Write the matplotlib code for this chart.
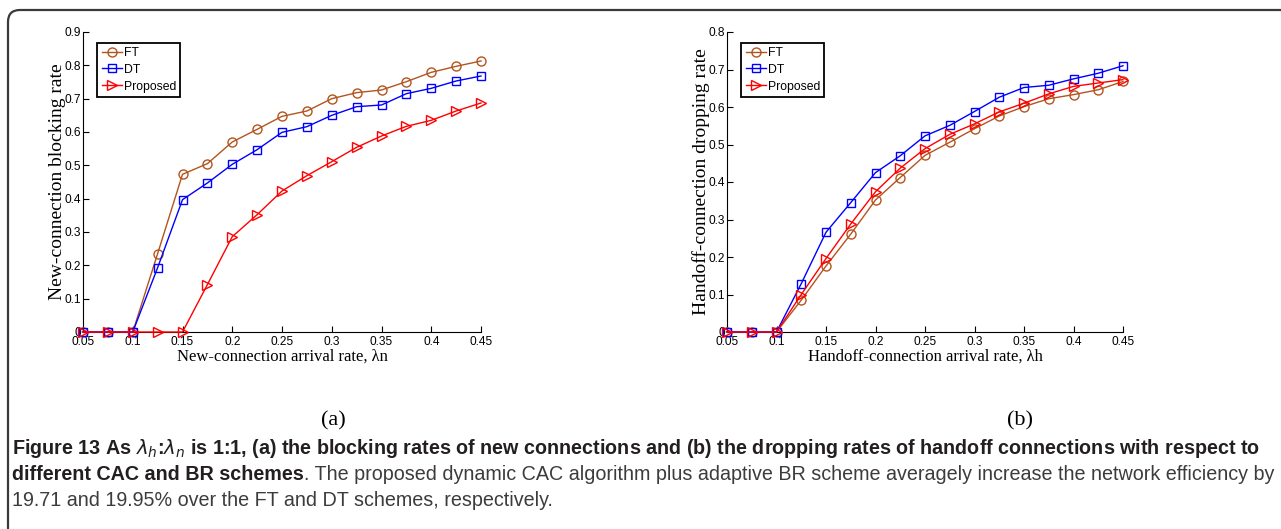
import matplotlib
matplotlib.use('Agg')
import matplotlib.pyplot as plt
import numpy as np
from matplotlib import font_manager
from matplotlib.patches import FancyBboxPatch

# arrival rates (both panels)
rates = [0.05, 0.075, 0.1, 0.125, 0.15, 0.175, 0.2, 0.225, 0.25, 0.275,
         0.3, 0.325, 0.35, 0.375, 0.4, 0.425, 0.45]

# (a) new-connection blocking rate
block_ft = [0, 0, 0, 0.235, 0.473, 0.505, 0.570, 0.608, 0.647, 0.663,
            0.700, 0.718, 0.726, 0.751, 0.779, 0.797, 0.813]
block_dt = [0, 0, 0, 0.193, 0.397, 0.447, 0.503, 0.547, 0.599, 0.616,
            0.650, 0.676, 0.681, 0.715, 0.731, 0.753, 0.768]
block_prop = [0, 0, 0, 0, 0, 0.142, 0.286, 0.352, 0.423, 0.469,
              0.511, 0.554, 0.588, 0.617, 0.635, 0.663, 0.687]

# (b) handoff-connection dropping rate
drop_ft = [0, 0, 0, 0.085, 0.176, 0.261, 0.352, 0.412, 0.471, 0.506,
           0.542, 0.576, 0.601, 0.622, 0.633, 0.646, 0.668]
drop_dt = [0, 0, 0, 0.129, 0.266, 0.345, 0.425, 0.470, 0.523, 0.551,
           0.588, 0.626, 0.652, 0.658, 0.675, 0.690, 0.710]
drop_prop = [0, 0, 0, 0.100, 0.196, 0.288, 0.374, 0.437, 0.489, 0.527,
             0.555, 0.587, 0.610, 0.635, 0.655, 0.664, 0.673]

series_names = ['FT', 'DT', 'Proposed']
x_ticks = [0.05, 0.1, 0.15, 0.2, 0.25, 0.3, 0.35, 0.4, 0.45]
x_ticklabels = ['0.05', '0.1', '0.15', '0.2', '0.25', '0.3', '0.35', '0.4', '0.45']

COLORS = ['#b3541e', '#0000ff', '#ff0000']
MARKERS = ['o', 's', '>']
SIZES = [6.5, 6.0, 7.0]

W, H = 1281, 529
fig = plt.figure(figsize=(W / 100, H / 100), dpi=100)

# background layer for frame, sub-labels and caption
bg = fig.add_axes([0, 0, 1, 1])
bg.set_xlim(0, W)
bg.set_ylim(H, 0)
bg.axis('off')
frame = FancyBboxPatch((8, 10), W + 20, H + 20,
                       boxstyle='round,pad=0,rounding_size=12',
                       fc='white', ec='#3a3a3a', lw=1.6)
bg.add_patch(frame)

serif = 'Liberation Serif'
sans = 'Liberation Sans'


def panel(rect, ys, ymax, xlabel, ylabel):
    ax = fig.add_axes(rect)
    for i, y in enumerate(ys):
        ax.plot(rates, y, color=COLORS[i], marker=MARKERS[i], ms=SIZES[i],
                mfc='none', mec=COLORS[i], mew=1.0, lw=1.0,
                label=series_names[i], clip_on=False, zorder=3 + i)
    ax.set_xlim(0.05, 0.45)
    ax.set_ylim(0, ymax)
    ax.set_xticks(x_ticks)
    ax.set_xticklabels(x_ticklabels)
    yt = np.round(np.arange(0, ymax + 0.001, 0.1), 1)
    ax.set_yticks(yt)
    ax.set_yticklabels(['0'] + ['%.1f' % v for v in yt[1:]])
    for s in ['top', 'right']:
        ax.spines[s].set_visible(False)
    for s in ['left', 'bottom']:
        ax.spines[s].set_linewidth(0.8)
    ax.tick_params(direction='in', length=4, width=0.8, labelsize=8.6)
    ax.tick_params(axis='x', pad=3)
    ax.tick_params(axis='y', pad=1.5)
    for lab in ax.get_xticklabels() + ax.get_yticklabels():
        lab.set_fontfamily(sans)
    ax.set_xlabel(xlabel, fontfamily=serif, fontsize=12, labelpad=0)
    ax.set_ylabel(ylabel, fontfamily=serif, fontsize=14, labelpad=-1)
    leg = ax.legend(loc='upper left', bbox_to_anchor=(0.036, 0.965),
                    prop={'family': sans, 'size': 8.8}, handlelength=1.7,
                    handletextpad=0.1, borderpad=0.35, labelspacing=0.4,
                    fancybox=False, framealpha=1, borderaxespad=0)
    leg.get_frame().set_edgecolor('black')
    leg.get_frame().set_linewidth(1.3)
    return ax


panel([83 / W, 1 - 332 / H, 398 / W, 300 / H],
      [block_ft, block_dt, block_prop], 0.9,
      'New-connection arrival rate, \u03bbn', 'New-connection blocking rate')
panel([727 / W, 1 - 332 / H, 396 / W, 300 / H],
      [drop_ft, drop_dt, drop_prop], 0.8,
      'Handoff-connection arrival rate, \u03bbh', 'Handoff-connection dropping rate')

bg.text(333, 421, '(a)', fontfamily=serif, fontsize=16, ha='center', va='center')
bg.text(1020, 421, '(b)', fontfamily=serif, fontsize=16, ha='center', va='center')

# caption
try:
    font_manager.findfont('Liberation Sans Narrow', fallback_to_default=False)
    cap_font = 'Liberation Sans Narrow'
except Exception:
    cap_font = sans

line1 = ('Figure 13 As $\\lambda_h$:$\\lambda_n$ is 1:1, (a) the blocking rates of new '
         'connections and (b) the dropping rates of handoff connections with respect to')
line2a = 'different CAC and BR schemes'
line2b = ('. The proposed dynamic CAC algorithm plus adaptive BR scheme averagely '
          'increase the network efficiency by')
line3 = '19.71 and 19.95% over the FT and DT schemes, respectively.'

fs = 10
t1 = bg.text(12, 448, line1, fontfamily=cap_font, fontweight='bold', fontsize=fs,
             va='center', ha='left', color='#231f20')
t2 = bg.text(12, 474, line2a, fontfamily=cap_font, fontweight='bold', fontsize=fs,
             va='center', ha='left', color='#231f20')
t2b = bg.annotate(line2b, xy=(1, 0.5), xycoords=t2, va='center', ha='left',
                  fontfamily=cap_font, fontsize=fs, color='#3c3c3c')
t3 = bg.text(12, 500, line3, fontfamily=cap_font, fontsize=fs, va='center',
             ha='left', color='#3c3c3c')
fig.canvas.draw()
r = fig.canvas.get_renderer()
w1 = t1.get_window_extent(r).width
w2 = t2.get_window_extent(r).width + t2b.get_window_extent(r).width
fs = fs * 1262 / max(w1, w2)
for t in (t1, t2, t2b, t3):
    t.set_fontsize(fs)

fig.savefig('out.png', dpi=100)
